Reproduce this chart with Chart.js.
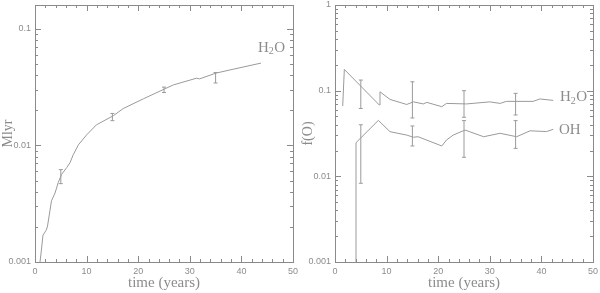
<!DOCTYPE html>
<html><head><meta charset="utf-8">
<script src="https://cdn.jsdelivr.net/npm/chart.js@4/dist/chart.umd.min.js"></script>
<style>
html,body{margin:0;padding:0;background:#fff;}
#wrap{position:relative;width:600px;height:293px;}
canvas{position:absolute;top:0;}
</style></head><body>
<div id="wrap"><canvas id="c1" width="300" height="293" style="left:0"></canvas><canvas id="c2" width="300" height="293" style="left:300px"></canvas></div>
<script>
// ---- data ----
const xTicks = [0, 10, 20, 30, 40, 50];
const leftT = [0.97, 1.2, 1.55, 2.13, 2.4, 3.2, 3.88, 4.5, 5.17, 6.14, 6.79, 7.4, 8.4, 10, 11.9, 15.2, 17.1, 21, 25.2, 26.8, 31.3, 31.9, 35.1, 38.4, 43.8];
const leftV = [0.001, 0.00122, 0.0017, 0.00186, 0.002, 0.00335, 0.0039, 0.0048, 0.00565, 0.00645, 0.0071, 0.0083, 0.0101, 0.0123, 0.015, 0.018, 0.0207, 0.0251, 0.0306, 0.033, 0.0377, 0.0372, 0.0417, 0.045, 0.0508];
const leftErrT = [5, 15, 25, 35];
const leftErrLo = [0.0047, 0.0163, 0.0284, 0.0343];
const leftErrHi = [0.0062, 0.0188, 0.0316, 0.0422];

const h2oT = [1.49, 1.81, 8.59, 8.72, 10.66, 13.9, 15.2, 17.1, 17.8, 20.7, 21.6, 25.5, 30, 32, 33.2, 38.4, 39.7, 42.3];
const h2oV = [0.066, 0.177, 0.068, 0.097, 0.079, 0.069, 0.074, 0.070, 0.073, 0.065, 0.071, 0.070, 0.074, 0.071, 0.075, 0.075, 0.080, 0.077];
const ohT = [4.07, 4.07, 8.4, 10.66, 13.9, 15.2, 16.1, 20.7, 21.6, 22.9, 25.2, 28.8, 32, 35.2, 37.8, 41, 42.3];
const ohV = [0.0005, 0.0247, 0.045, 0.0332, 0.0303, 0.0286, 0.029, 0.0226, 0.0265, 0.0303, 0.0347, 0.029, 0.0318, 0.029, 0.034, 0.0333, 0.0354];
const h2oErrT = [5, 15, 25, 35];
const h2oErrLo = [0.062, 0.048, 0.049, 0.052];
const h2oErrHi = [0.133, 0.127, 0.1, 0.093];
const ohErrT = [5, 15, 25, 35];
const ohErrLo = [0.0083, 0.0226, 0.0167, 0.0212];
const ohErrHi = [0.04, 0.0387, 0.0447, 0.0447];

// label anchors (data coords)
const leftLabels = [{t: 43.2, v: 0.069, parts: ['H', '2', 'O']}];
const rightLabels = [{t: 43.6, v: 0.084, parts: ['H', '2', 'O']}, {t: 43.4, v: 0.035, parts: ['OH']}];

const LINE = '#9a9a9a';
const TXT = '#8c8c8c';

function lineDS(ts, vs) {
  return {data: ts.map((t, i) => ({x: t, y: vs[i]})), borderColor: LINE, borderWidth: 1, pointRadius: 0, tension: 0, fill: false};
}
function errDS(ts, lo, hi) {
  return ts.map((t, i) => ({
    data: [{x: t, y: lo[i]}, {x: t, y: hi[i]}], borderColor: LINE, borderWidth: 1,
    pointStyle: 'line', pointRadius: 2, pointBorderColor: LINE, pointBorderWidth: 1, fill: false
  }));
}

const frameTicks = {
  id: 'frameTicks',
  afterDatasetsDraw(chart, args, opts) {
    const {ctx, chartArea: a, scales} = chart;
    ctx.save();
    ctx.strokeStyle = '#8a8a8a';
    ctx.lineWidth = 1;
    ctx.strokeRect(a.left + 0.5, a.top + 0.5, a.right - a.left, a.bottom - a.top);
    const xs = scales.x;
    for (let v = xs.min; v <= xs.max + 1e-9; v += 2) {
      const p = Math.round(xs.getPixelForValue(v)) + 0.5;
      const L = (Math.abs(v % 10) < 1e-9) ? 6 : 3;
      ctx.beginPath();
      ctx.moveTo(p, a.bottom); ctx.lineTo(p, a.bottom - L);
      ctx.moveTo(p, a.top); ctx.lineTo(p, a.top + L);
      ctx.stroke();
    }
    const ys = scales.y;
    const e0 = Math.floor(Math.log10(ys.min)), e1 = Math.ceil(Math.log10(ys.max));
    for (let e = e0; e <= e1; e++) {
      for (let m = 1; m <= 9; m++) {
        const v = m * Math.pow(10, e);
        if (v < ys.min * 0.999 || v > ys.max * 1.001) continue;
        const p = Math.round(ys.getPixelForValue(v)) + 0.5;
        const L = m === 1 ? 6 : 3;
        ctx.beginPath();
        ctx.moveTo(a.left, p); ctx.lineTo(a.left + L, p);
        ctx.moveTo(a.right, p); ctx.lineTo(a.right - L, p);
        ctx.stroke();
      }
    }
    // curve labels
    ctx.fillStyle = TXT;
    ctx.textBaseline = 'middle';
    (opts.labels || []).forEach(lb => {
      let x = xs.getPixelForValue(lb.t);
      const y = ys.getPixelForValue(lb.v);
      lb.parts.forEach((s, i) => {
        const sub = (lb.parts.length === 3 && i === 1);
        ctx.font = (sub ? '10px' : '15px') + ' "Liberation Serif", serif';
        ctx.fillText(s, x, sub ? y + 4 : y);
        x += ctx.measureText(s).width + (sub ? 0.5 : 0);
      });
    });
    ctx.restore();
  }
};

function makeChart(id, datasets, ymin, ymax, ytitle, topPad, labels) {
  return new Chart(document.getElementById(id), {
    type: 'line',
    data: {datasets},
    options: {
      responsive: false, animation: false,
      layout: {padding: {top: topPad, right: 7, left: 0, bottom: 0}},
      plugins: {legend: {display: false}, tooltip: {enabled: false}, frameTicks: {labels}},
      scales: {
        x: {
          type: 'linear', min: 0, max: 50,
          afterBuildTicks: s => { s.ticks = xTicks.map(v => ({value: v})); },
          grid: {display: false, drawTicks: false, tickLength: 0}, border: {display: false},
          ticks: {color: TXT, font: {size: 9, family: '"Liberation Sans", sans-serif'}, padding: 4, maxRotation: 0},
          title: {display: true, text: 'time (years)', color: TXT, font: {size: 15, family: '"Liberation Serif", serif'}, padding: {top: 0, bottom: 1}},
          afterFit: s => { s.height = 31; s.paddingLeft = 0; s.paddingRight = 0; }
        },
        y: {
          type: 'logarithmic', min: ymin, max: ymax,
          grid: {display: false, drawTicks: false, tickLength: 0}, border: {display: false},
          ticks: {
            color: TXT, font: {size: 9, family: '"Liberation Sans", sans-serif'}, padding: 4, autoSkip: false,
            callback: v => { const l = Math.log10(v); return Math.abs(l - Math.round(l)) < 1e-6 ? String(Number(v.toPrecision(1))) : ''; }
          },
          title: {display: true, text: ytitle, color: TXT, font: {size: 14, family: '"Liberation Serif", serif'}, padding: {top: 0, bottom: 0}},
          afterFit: s => { s.width = 35; s.paddingTop = 0; s.paddingBottom = 0; }
        }
      }
    },
    plugins: [frameTicks]
  });
}

makeChart('c1', [lineDS(leftT, leftV), ...errDS(leftErrT, leftErrLo, leftErrHi)], 0.001, 0.16, 'Mlyr', 2, leftLabels);
makeChart('c2', [lineDS(h2oT, h2oV), lineDS(ohT, ohV), ...errDS(h2oErrT, h2oErrLo, h2oErrHi), ...errDS(ohErrT, ohErrLo, ohErrHi)], 0.001, 1, 'f(O)', 5, rightLabels);
</script>
</body></html>
